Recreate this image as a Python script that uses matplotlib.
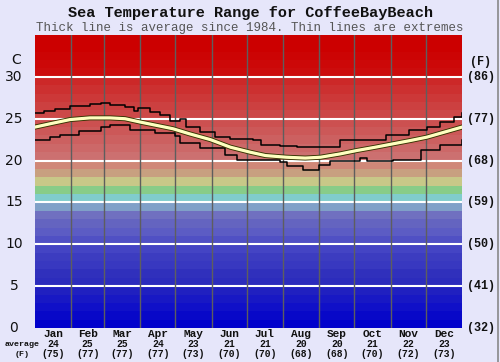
import numpy as np
import matplotlib
matplotlib.use('Agg')
import matplotlib.pyplot as plt
import matplotlib.patheffects as pe

#Chart data (day of year, deg C)
months = ['Jan','Feb','Mar','Apr','May','Jun','Jul','Aug','Sep','Oct','Nov','Dec']
month_avg_c = [24,25,25,24,23,21,21,20,20,21,22,23]
month_avg_f = [75,77,77,77,73,70,70,68,68,70,72,73]
month_len = [31,28,31,30,31,30,31,31,30,31,30,31]

avg_day = [0,13,30,47,64,77,90,104,118,132,150,167,184,197,215,231,244,261,275,291,306,321,335,350,365]
avg_temp = [24.0,24.4,24.9,25.1,25.1,25.0,24.6,24.2,23.8,23.2,22.5,21.6,21.0,20.6,20.4,20.3,20.4,20.8,21.2,21.6,22.0,22.4,22.8,23.4,24.0]

max_day = [0,8,17,30,47,56,64,77,85,88,98,107,115,124,129,141,154,167,186,193,209,224,250,261,280,300,320,335,346,358,365]
max_temp = [25.7,25.9,26.2,26.5,26.7,26.9,26.6,26.4,25.9,26.3,25.8,25.4,24.7,25.0,24.0,23.4,22.8,22.6,22.4,21.9,21.8,21.6,21.6,22.5,22.4,23.1,23.6,24.0,24.6,25.2,25.7]

min_day = [0,13,21,38,56,64,81,103,120,124,141,162,173,209,215,229,243,252,278,284,306,330,346,365]
min_temp = [22.5,22.8,23.1,23.5,24.0,24.2,23.7,23.3,22.9,22.1,21.5,20.7,20.1,19.8,19.3,18.9,19.5,19.9,20.3,19.9,20.1,21.3,21.9,22.5]

c_ticks = [0,5,10,15,20,25,30]
f_ticks = ['(32)','(41)','(50)','(59)','(68)','(77)','(86)']

#one colour per degree band, 0 to 35
band_colors = ['#0000cc','#0808c8','#1010c8','#1818c4','#2020c0',
               '#2c2cbc','#3030bc','#3838c0','#3c3cc0','#4444c4',
               '#5050c4','#5c5cc4','#6464c0','#7070c0','#80a0c8',
               '#80cccc','#88cc88','#c8c888','#c8a080','#d08878',
               '#cc7070','#cc6868','#cc6060','#cc5858','#cc5050',
               '#cc4848','#cc4040','#cc3838','#cc3030','#cc2828',
               '#cc0c0c','#cc0808','#cc0404','#cc0000','#cc0000']

bg = '#e6e6fa'
mono = 'Liberation Mono'
ink = '#111111'

fig = plt.figure(figsize=(5,3.62), dpi=100, facecolor=bg)
ax = fig.add_axes([0.07, 0.0939, 0.854, 0.8094])

for i, c in enumerate(band_colors):
    ax.axhspan(i, i+1, color=c, lw=0, zorder=0)

for t in c_ticks[1:]:
    ax.axhline(t, color='white', lw=1.5, zorder=1)

bounds = np.cumsum(month_len)
for b in bounds[:-1]:
    ax.axvline(b, color='#5e5e5e', lw=1, zorder=1)

ax.plot(max_day, max_temp, color='black', lw=1.1, drawstyle='steps-post', zorder=3)
ax.plot(min_day, min_temp, color='black', lw=1.1, drawstyle='steps-post', zorder=3)
ax.plot(avg_day, avg_temp, color='#ffffc0', lw=2.3, zorder=4,
        path_effects=[pe.Stroke(linewidth=3.6, foreground='#333300'), pe.Normal()])

ax.set_xlim(0,365)
ax.set_ylim(0,35)
ax.set_xticks([])
ax.set_yticks([])
for s in ax.spines.values():
    s.set_visible(False)

#left celsius labels
for t in c_ticks:
    fig.text(0.028, 1 - (328 - 8.37*t)/362, str(t), ha='center', va='center',
             fontsize=10, color=ink, family='DejaVu Sans')
fig.text(0.032, 1 - 60/362, 'C', ha='center', va='center', fontsize=10, color=ink, family='DejaVu Sans')

#right fahrenheit labels
for t, f in zip(c_ticks, f_ticks):
    fig.text(0.962, 1 - (328 - 8.37*t)/362, f, ha='center', va='center',
             fontsize=8.5, fontweight='bold', family=mono, color=ink)
fig.text(0.962, 1 - 62/362, '(F)', ha='center', va='center',
         fontsize=8.5, fontweight='bold', family=mono, color=ink)

#month labels
starts = np.concatenate([[0], bounds[:-1]])
for m, s, l, ac, af in zip(months, starts, month_len, month_avg_c, month_avg_f):
    x = 0.07 + 0.854*(s + l/2)/365
    fig.text(x, 1 - 334/362, m, ha='center', va='center', fontsize=8, fontweight='bold', family=mono, color=ink)
    fig.text(x, 1 - 344/362, str(ac), ha='center', va='center', fontsize=7, fontweight='bold', family=mono, color=ink)
    fig.text(x, 1 - 354/362, '(%d)' % af, ha='center', va='center', fontsize=7, fontweight='bold', family=mono, color=ink)
fig.text(0.045, 1 - 344/362, 'average', ha='center', va='center', fontsize=6, fontweight='bold', family=mono, color=ink)
fig.text(0.045, 1 - 354/362, '(F)', ha='center', va='center', fontsize=6, fontweight='bold', family=mono, color=ink)

fig.text(0.5, 1 - 13/362, 'Sea Temperature Range for CoffeeBayBeach', ha='center', va='center',
         fontsize=11, fontweight='bold', family=mono, color=ink)
fig.text(0.5, 1 - 28/362, 'Thick line is average since 1984. Thin lines are extremes', ha='center', va='center',
         fontsize=9, family=mono, color='#555555')

#right edge border
fig.add_artist(plt.Line2D([0.995,0.995],[0,1], color='#888888', lw=1.2))

fig.savefig('out.png', dpi=100, facecolor=bg)
